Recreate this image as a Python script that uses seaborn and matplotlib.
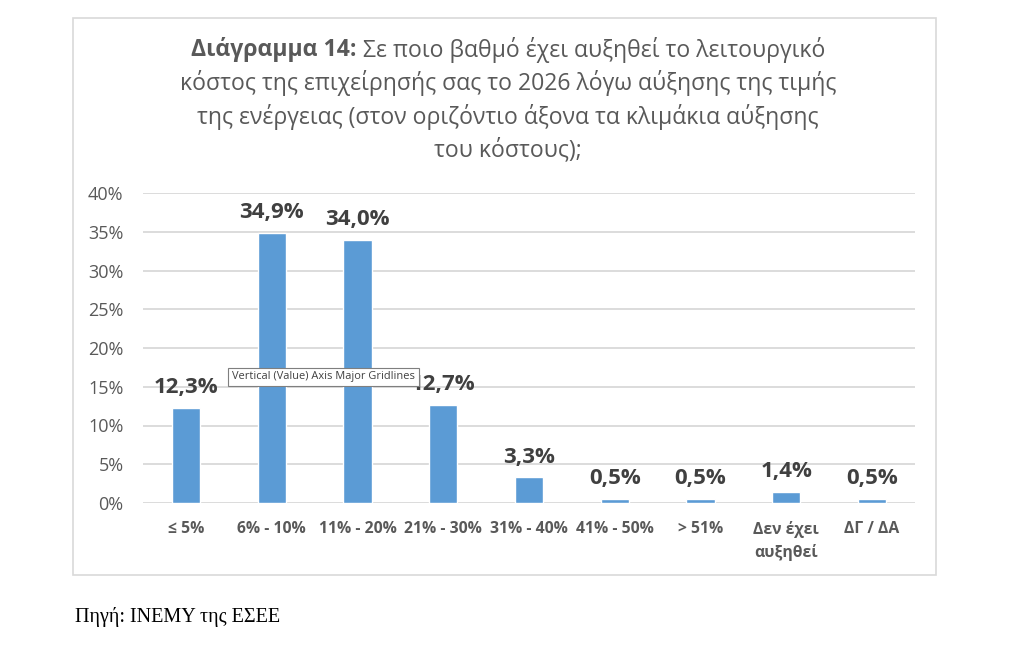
import matplotlib
matplotlib.use("Agg")
import matplotlib.pyplot as plt
import seaborn as sns
import pandas as pd
from matplotlib.patches import Rectangle

categories = ["≤ 5%", "6% - 10%", "11% - 20%", "21% - 30%", "31% - 40%",
              "41% - 50%", "> 51%", "Δεν έχει\nαυξηθεί", "ΔΓ / ΔΑ"]
values = [12.3, 34.9, 34.0, 12.7, 3.3, 0.5, 0.5, 1.4, 0.5]
y_ticks = [0, 5, 10, 15, 20, 25, 30, 35, 40]

title_bold = "Διάγραμμα 14:"
title_rest = (" Σε ποιο βαθμό έχει αυξηθεί το λειτουργικό")
title_lines = ["κόστος της επιχείρησής σας το 2026 λόγω αύξησης της τιμής",
               "της ενέργειας (στον οριζόντιο άξονα τα κλιμάκια αύξησης",
               "του κόστους);"]
source = "Πηγή: ΙΝΕΜΥ της ΕΣΕΕ"
tooltip = "Vertical (Value) Axis Major Gridlines"

sns.set_theme(style="white")
plt.rcParams['font.family'] = ['Open Sans', 'DejaVu Sans']

df = pd.DataFrame({"cat": categories, "val": values})

fig = plt.figure(figsize=(10.24, 6.71), dpi=100)
W, H = 1024, 671
ax = fig.add_axes([143 / W, 1 - 503 / H, (915 - 143) / W, (503 - 193) / H])

# outer chart border
fig.patches.append(Rectangle((73 / W, 1 - 575 / H), (936 - 73) / W, (575 - 18) / H,
                             transform=fig.transFigure, fill=False,
                             edgecolor="#D9D9D9", linewidth=1.2, zorder=0))

sns.barplot(data=df, x="cat", y="val", color="#5B9BD5", width=0.33,
            saturation=1, ax=ax, zorder=3)

ax.set_ylim(0, 40)
ax.set_xlim(-0.5, len(categories) - 0.5)
ax.set_yticks(y_ticks)
ax.set_yticklabels([f"{t}%" for t in y_ticks], fontsize=13, color="#595959")
ax.set_xticks(range(len(categories)))
ax.set_xticklabels(categories, fontsize=11.3, color="#595959", fontweight="bold",
                   linespacing=1.45, va="top")
ax.tick_params(axis="x", length=0, pad=13)
ax.tick_params(axis="y", length=0, pad=14)
ax.set_xlabel("")
ax.set_ylabel("")
for s in ax.spines.values():
    s.set_visible(False)
for t in y_ticks:
    ax.axhline(t, color="#D9D9D9", linewidth=1.3, zorder=1)

for i, v in enumerate(values):
    ax.annotate(f"{v:.1f}%".replace(".", ","), (i, v), xytext=(0, 7),
                textcoords="offset points", ha="center", va="bottom",
                fontsize=16, fontweight="bold", color="#404040", zorder=5)

# title
cx = 508 / W
fs_title = 16.6
bold_t = fig.text(0, 1 - 50 / H, title_bold, fontsize=fs_title, fontweight="bold",
                  color="#595959", va="center", ha="left")
rest_t = fig.text(0, 1 - 50 / H, title_rest, fontsize=fs_title,
                  color="#595959", va="center", ha="left")
fig.canvas.draw()
r = fig.canvas.get_renderer()
wb = bold_t.get_window_extent(r).width
wr = rest_t.get_window_extent(r).width
x0 = 508 - (wb + wr) / 2
bold_t.set_x(x0 / W)
rest_t.set_x((x0 + wb) / W)
for k, line in enumerate(title_lines):
    fig.text(cx, 1 - (83.5 + 33.5 * k) / H, line, fontsize=fs_title, color="#595959",
             ha="center", va="center")

fig.text(75 / W, 1 - 617 / H, source, fontsize=14.5, color="#000000",
         family=["Liberation Serif", "DejaVu Serif"], ha="left", va="center")

fig.text(232 / W, 1 - 377 / H, tooltip, fontsize=7.9, color="#404040", ha="left",
         va="center", zorder=10,
         bbox=dict(boxstyle="square,pad=0.35", facecolor="white",
                   edgecolor="#7F7F7F", linewidth=0.8))

fig.savefig("out.png", dpi=100)
